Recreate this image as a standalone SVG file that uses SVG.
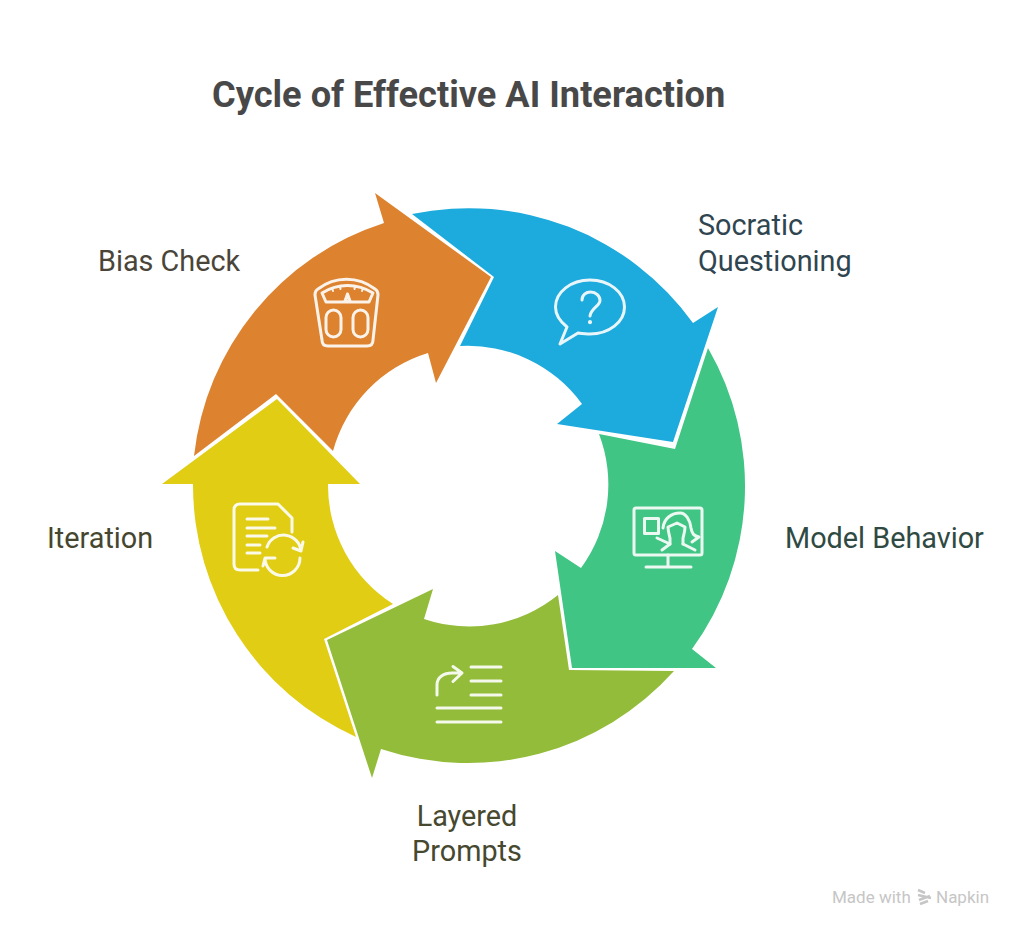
<svg xmlns="http://www.w3.org/2000/svg" width="1024" height="937" viewBox="0 0 1024 937">
<style>
text{font-family:Roboto,"Liberation Sans",sans-serif}
.title{font-size:36.200px;font-weight:700;fill:#484848}
.lbl{font-size:28.800px;font-weight:400}
.ic{fill:none;stroke:#fff;stroke-width:3;stroke-linecap:round;stroke-linejoin:round;opacity:.9}
.wm{font-size:17px;fill:#c6c6c6}
</style>
<rect width="1024" height="937" fill="#fff"/>
<text class="title" x="212" y="107">Cycle of Effective AI Interaction</text>
<g id="socratic-questioning">
<path fill="#1DAADC" d="M412 214A276.500 276.500 0 0 1 693 323L718 307L673 442L557 424L582 404A141 141 0 0 0 460 346L494 277Z"/>
<g class="ic"><path d="M567 327C557 319 555.500 312 555.500 307C555.500 292 571 280 590 280C609 280 624.500 292 624.500 307C624.500 322 609 334 590 334C586 334 582 333.500 578 333L560 344Z"/><path d="M582 300C582 295 586 292 590.500 292C596 292 600 296 600 300.500C600 306 591 308 590 316"/><path d="M590 322L590 322.200" stroke-width="4"/></g>
<text class="lbl" x="698" y="235" fill="#2F4550">Socratic</text><text class="lbl" x="698" y="271" fill="#2F4550">Questioning</text>
</g>
<g id="model-behavior">
<path fill="#40C584" d="M708 348A276.500 276.500 0 0 1 692 649L716 668L572 668L555 551L581 568A141 141 0 0 0 599 434L675 449Z"/>
<g class="ic"><rect x="634" y="508" width="68" height="47" rx="2"/><path d="M668 555V567M646 567H691"/><rect x="644.500" y="518.500" width="14" height="15"/><path d="M663 528C664 518 672 513 680 513C686 513 690 520 691 528C692 534 694 536 699 537L692 542"/><path d="M670 544V538C669 534 668 531 668 527L677 523L685 527C685 531 684 534 683 538V544"/><path d="M657 538L670 544L662 550M683 544L695 550"/></g>
<text class="lbl" x="785" y="548" fill="#2F4A42">Model Behavior</text>
</g>
<g id="layered-prompts">
<path fill="#93BC3A" d="M674 671A276.500 276.500 0 0 1 381 749L372 778L327 640L433 589L424 619A141 141 0 0 0 558 595L569 670Z"/>
<g class="ic"><path d="M437 695V685C437 677 444 673 452 673H461M453 666.500L462 673L453 681.500M471 667H501M471 681H501M471 695H501M437 708H501M437 722H501"/></g>
<text class="lbl" x="467" y="826" text-anchor="middle" fill="#46482F">Layered</text><text class="lbl" x="467" y="861" text-anchor="middle" fill="#46482F">Prompts</text>
</g>
<g id="iteration">
<path fill="#E0CD14" d="M356 737A276.500 276.500 0 0 1 193 484L162 484L277 399L360 484L328 484A141 141 0 0 0 393 604L324 639Z"/>
<g class="ic"><path d="M258 570H240C236 570 234 568 234 564V510C234 506 236 504 240 504H278L292 518V532M247 519H268M247 528H275M247 536H267M247 545H260M247 553H260"/><path d="M267 547A17.500 17.500 0 0 1 301 551M303 542L301 551L293 548M300 558A17.500 17.500 0 0 1 265 558M275 558L265 558L263 566"/></g>
<text class="lbl" x="47" y="548" fill="#46462F">Iteration</text>
</g>
<g id="bias-check">
<path fill="#DD8330" d="M194 456A276.500 276.500 0 0 1 384 223L375 193L491 277L436 383L428 353A141 141 0 0 0 333 451L276 394Z"/>
<g class="ic"><path d="M315 295C315 291 316 290 318 289C335 276 358 276 375 289C377 290 378 291 378 295L373 340C373 344 371 346 367 346H328C324 346 322 344 322 340Z"/><path d="M322 293C338 283 357 283 373 293L369 302H326Z"/><path d="M347.500 294L345 301H350Z"/><path d="M332 288L333 291M340 286L340.500 289M355 286L354.500 289M363 288L362 291" stroke-width="2"/><rect x="326" y="310" width="15" height="27" rx="7.500"/><rect x="353" y="310" width="15" height="27" rx="7.500"/></g>
<text class="lbl" x="98" y="271" fill="#4A4538">Bias Check</text>
</g>
<g id="watermark">
<text class="wm" x="832" y="903">Made with</text>
<path d="M918 890L925 893M918 895L931 898M919 900L930 896M920 904L928 901" fill="none" stroke="#c6c6c6" stroke-width="2.500"/>
<text class="wm" x="936" y="903">Napkin</text>
</g>
</svg>
